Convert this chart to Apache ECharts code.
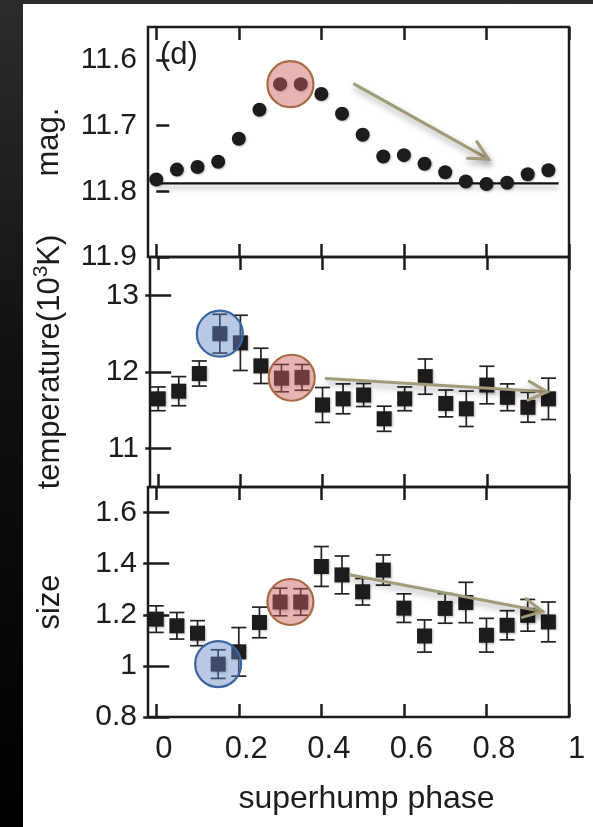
<!DOCTYPE html>
<html>
<head>
<meta charset="utf-8">
<script src="https://cdn.jsdelivr.net/npm/echarts@6/dist/echarts.min.js"></script>
<style>
  html, body { margin: 0; padding: 0; width: 593px; height: 827px; overflow: hidden;
    background: linear-gradient(to bottom, #2c2c2c 0%, #101010 45%, #000 100%); }
  #chart { position: absolute; left: 23px; top: 4px; width: 570px; height: 823px; background: #fff; }
</style>
</head>
<body>
<div id="chart"></div>
<script>
// Superhump phase bins
const phase = [0, 0.05, 0.10, 0.15, 0.20, 0.25, 0.30, 0.35, 0.40, 0.45,
               0.50, 0.55, 0.60, 0.65, 0.70, 0.75, 0.80, 0.85, 0.90, 0.95];

// (d) magnitude light curve
const mag = [11.782, 11.767, 11.763, 11.755, 11.720, 11.676, 11.637, 11.637, 11.652, 11.682,
             11.714, 11.747, 11.745, 11.758, 11.771, 11.785, 11.789, 11.787, 11.774, 11.768];
const magBaseline = 11.788;

// disk temperature (10^3 K) with 1-sigma errors
const temperature = [11.65, 11.75, 11.98, 12.50, 12.38, 12.08, 11.92, 11.93, 11.57, 11.65,
                     11.70, 11.39, 11.65, 11.94, 11.59, 11.52, 11.83, 11.67, 11.54, 11.65];
const temperatureErr = [0.155, 0.19, 0.164, 0.253, 0.36, 0.23, 0.178, 0.168, 0.228, 0.195,
                        0.15, 0.164, 0.155, 0.23, 0.175, 0.231, 0.245, 0.175, 0.195, 0.27];

// disk size with 1-sigma errors
const diskSize = [1.183, 1.157, 1.128, 1.007, 1.055, 1.170, 1.250, 1.250, 1.389, 1.356,
                  1.290, 1.375, 1.226, 1.117, 1.225, 1.248, 1.120, 1.159, 1.198, 1.172];
const diskSizeErr = [0.052, 0.052, 0.049, 0.056, 0.095, 0.060, 0.054, 0.052, 0.078, 0.074,
                     0.052, 0.059, 0.056, 0.063, 0.058, 0.079, 0.066, 0.057, 0.062, 0.078];

// tick values
const phaseTicks = [0, 0.2, 0.4, 0.6, 0.8, 1];
const magTicks = [11.6, 11.7, 11.8, 11.9];
const temperatureTicks = [11, 12, 13];
const sizeTicks = [0.8, 1, 1.2, 1.4, 1.6];

// phase bins singled out by the circles
const coolPeakBins = [6, 7];   // red circles
const hotBins = [3];           // blue circles

// trend arrows: [phaseStart, valueStart, phaseEnd, valueEnd]
const magTrend = [0.48, 11.637, 0.805, 11.751];
const temperatureTrend = [0.409, 11.915, 0.947, 11.741];
const sizeTrend = [0.471, 1.356, 0.936, 1.213];

const INK = '#1e1b1c';
const FONT = 'Liberation Sans, Arial, Helvetica, sans-serif';

const chart = echarts.init(document.getElementById('chart'), null, { renderer: 'canvas' });

const gridTops = [23, 253, 483];
const grids = gridTops.map(t => ({
  left: 125, top: t, width: 421, height: 230,
  show: true, borderColor: INK, borderWidth: 2.5, backgroundColor: 'transparent'
}));

const tickStyle = (values) => ({
  show: true, inside: true, length: 13, customValues: values,
  lineStyle: { color: INK, width: 2.5 }
});

// two x axes per panel (bottom with labels on the last panel, mirrored on top)
const xAxes = [];
for (let g = 0; g < 3; g++) {
  ['bottom', 'top'].forEach(pos => {
    const labelled = (g === 2 && pos === 'bottom');
    xAxes.push({
      type: 'value', gridIndex: g, position: pos, min: -0.02, max: 1,
      axisLine: { show: false }, splitLine: { show: false },
      axisTick: tickStyle(phaseTicks),
      axisLabel: labelled ? {
        show: true, customValues: phaseTicks, margin: 17, color: INK,
        fontSize: 31, fontFamily: FONT, padding: [0, 0, 0, 15],
        formatter: v => String(+v.toFixed(1))
      } : { show: false },
      name: labelled ? 'superhump phase' : '',
      nameLocation: 'middle', nameGap: 66,
      nameTextStyle: { color: INK, fontSize: 32, fontFamily: FONT, padding: [0, 0, 0, 16] }
    });
  });
}

const yLabel = (values, fmt) => ({
  show: true, customValues: values, margin: 11, color: INK,
  fontSize: 30, fontFamily: FONT, formatter: fmt
});
const yName = (pad) => ({ color: INK, fontSize: 31, fontFamily: FONT, padding: pad });

const yAxes = [
  { type: 'value', gridIndex: 0, position: 'left', inverse: true, min: 11.55, max: 11.9,
    axisLine: { show: false }, splitLine: { show: false },
    axisTick: tickStyle(magTicks), axisLabel: yLabel(magTicks, v => v.toFixed(1)),
    name: 'mag.', nameLocation: 'middle', nameRotate: 90, nameGap: 83,
    nameTextStyle: yName([0, 0, 0, 0]) },
  { type: 'value', gridIndex: 1, position: 'left', min: 10.5, max: 13.5,
    axisLine: { show: false }, splitLine: { show: false },
    axisTick: tickStyle(temperatureTicks), axisLabel: yLabel(temperatureTicks, v => String(Math.round(v))),
    name: '{t|temperature(10}{s|3}{t|K)}', nameLocation: 'middle', nameRotate: 90, nameGap: 81,
    nameTextStyle: Object.assign(yName([0, 0, 0, 20]), {
      rich: {
        t: { color: INK, fontSize: 31, fontFamily: FONT, lineHeight: 38 },
        s: { color: INK, fontSize: 21, fontFamily: FONT, lineHeight: 21, verticalAlign: 'top' }
      }
    }) },
  { type: 'value', gridIndex: 1, position: 'right', min: 10.5, max: 13.5,
    axisLine: { show: false }, splitLine: { show: false },
    axisTick: tickStyle(temperatureTicks), axisLabel: { show: false } },
  { type: 'value', gridIndex: 2, position: 'left', min: 0.8, max: 1.7,
    axisLine: { show: false }, splitLine: { show: false },
    axisTick: tickStyle(sizeTicks), axisLabel: yLabel(sizeTicks, v => String(+v.toFixed(1))),
    name: 'size', nameLocation: 'middle', nameRotate: 90, nameGap: 82,
    nameTextStyle: yName([0, 0, 0, 0]) },
  { type: 'value', gridIndex: 2, position: 'right', min: 0.8, max: 1.7,
    axisLine: { show: false }, splitLine: { show: false },
    axisTick: tickStyle(sizeTicks), axisLabel: { show: false } }
];

// panel -> [xAxisIndex, yAxisIndex]
const axesOf = [[0, 0], [2, 1], [4, 3]];

function points(values, panel, symbol, size) {
  return {
    type: 'scatter', xAxisIndex: axesOf[panel][0], yAxisIndex: axesOf[panel][1],
    data: phase.map((p, i) => [p, values[i]]),
    symbol, symbolSize: size, z: 3, silent: true,
    itemStyle: { color: INK, opacity: 1, shadowBlur: 2, shadowColor: 'rgba(0,0,0,0.25)', shadowOffsetX: 1, shadowOffsetY: 1 }
  };
}

function errorBars(values, errs, panel) {
  return {
    type: 'custom', xAxisIndex: axesOf[panel][0], yAxisIndex: axesOf[panel][1],
    data: phase.map((p, i) => [p, values[i] - errs[i], values[i] + errs[i]]),
    encode: { x: 0, y: [1, 2] }, z: 2, silent: true, clip: false,
    renderItem(params, api) {
      const lo = api.coord([api.value(0), api.value(1)]);
      const hi = api.coord([api.value(0), api.value(2)]);
      const hw = 7.5;
      const st = { stroke: '#222', lineWidth: 1.7 };
      return { type: 'group', children: [
        { type: 'line', shape: { x1: lo[0], y1: lo[1], x2: hi[0], y2: hi[1] }, style: st },
        { type: 'line', shape: { x1: lo[0] - hw, y1: lo[1], x2: lo[0] + hw, y2: lo[1] }, style: st },
        { type: 'line', shape: { x1: hi[0] - hw, y1: hi[1], x2: hi[0] + hw, y2: hi[1] }, style: st }
      ] };
    }
  };
}

const mean = a => a.reduce((s, v) => s + v, 0) / a.length;

function ring(values, bins, panel, fill, stroke) {
  const centre = [mean(bins.map(i => phase[i])), mean(bins.map(i => values[i]))];
  return {
    type: 'custom', xAxisIndex: axesOf[panel][0], yAxisIndex: axesOf[panel][1],
    data: [centre], encode: { x: 0, y: 1 }, z: 5, silent: true, clip: false,
    renderItem(params, api) {
      const c = api.coord([api.value(0), api.value(1)]);
      return { type: 'circle', shape: { cx: c[0], cy: c[1], r: 23 },
               style: { fill, stroke, lineWidth: 2.2 } };
    }
  };
}

function arrow(trend, panel) {
  return {
    type: 'custom', xAxisIndex: axesOf[panel][0], yAxisIndex: axesOf[panel][1],
    data: [trend], encode: { x: [0, 2], y: [1, 3] }, z: 6, silent: true, clip: false,
    renderItem(params, api) {
      const a = api.coord([api.value(0), api.value(1)]);
      const b = api.coord([api.value(2), api.value(3)]);
      const ang = Math.atan2(b[1] - a[1], b[0] - a[0]);
      const len = 21, spread = 27 * Math.PI / 180;
      const w1 = [b[0] - len * Math.cos(ang - spread), b[1] - len * Math.sin(ang - spread)];
      const w2 = [b[0] - len * Math.cos(ang + spread), b[1] - len * Math.sin(ang + spread)];
      const st = { stroke: '#a39a78', lineWidth: 3, fill: null, lineCap: 'round', lineJoin: 'miter',
                   shadowBlur: 6, shadowColor: 'rgba(0,0,0,0.35)', shadowOffsetX: 1, shadowOffsetY: 4 };
      return { type: 'group', children: [
        { type: 'line', shape: { x1: a[0], y1: a[1], x2: b[0], y2: b[1] }, style: st },
        { type: 'polyline', shape: { points: [w1, b, w2] }, style: st }
      ] };
    }
  };
}

const RED_FILL = 'rgba(205,95,95,0.47)', RED_EDGE = '#a86a44';
const BLUE_FILL = 'rgba(99,136,198,0.45)', BLUE_EDGE = '#3a66a0';

const series = [
  // (d) magnitude
  { type: 'line', xAxisIndex: 0, yAxisIndex: 0, symbol: 'none', silent: true, z: 1,
    data: [[0, magBaseline], [0.975, magBaseline]],
    lineStyle: { color: '#111', width: 2.2, shadowBlur: 5, shadowColor: 'rgba(0,0,0,0.3)', shadowOffsetY: 4 } },
  points(mag, 0, 'circle', 14),
  ring(mag, coolPeakBins, 0, RED_FILL, RED_EDGE),
  arrow(magTrend, 0),

  // temperature
  errorBars(temperature, temperatureErr, 1),
  points(temperature, 1, 'rect', 15),
  ring(temperature, hotBins, 1, BLUE_FILL, BLUE_EDGE),
  ring(temperature, coolPeakBins, 1, RED_FILL, RED_EDGE),
  arrow(temperatureTrend, 1),

  // size
  errorBars(diskSize, diskSizeErr, 2),
  points(diskSize, 2, 'rect', 15),
  ring(diskSize, hotBins, 2, BLUE_FILL, BLUE_EDGE),
  ring(diskSize, coolPeakBins, 2, RED_FILL, RED_EDGE),
  arrow(sizeTrend, 2)
];

chart.setOption({
  animation: false,
  backgroundColor: '#fff',
  textStyle: { fontFamily: FONT },
  grid: grids,
  xAxis: xAxes,
  yAxis: yAxes,
  series,
  graphic: [{
    type: 'text', left: 137, top: 36, silent: true,
    style: { text: '(d)', fill: INK, font: '31px ' + FONT }
  }]
});
</script>
</body>
</html>
